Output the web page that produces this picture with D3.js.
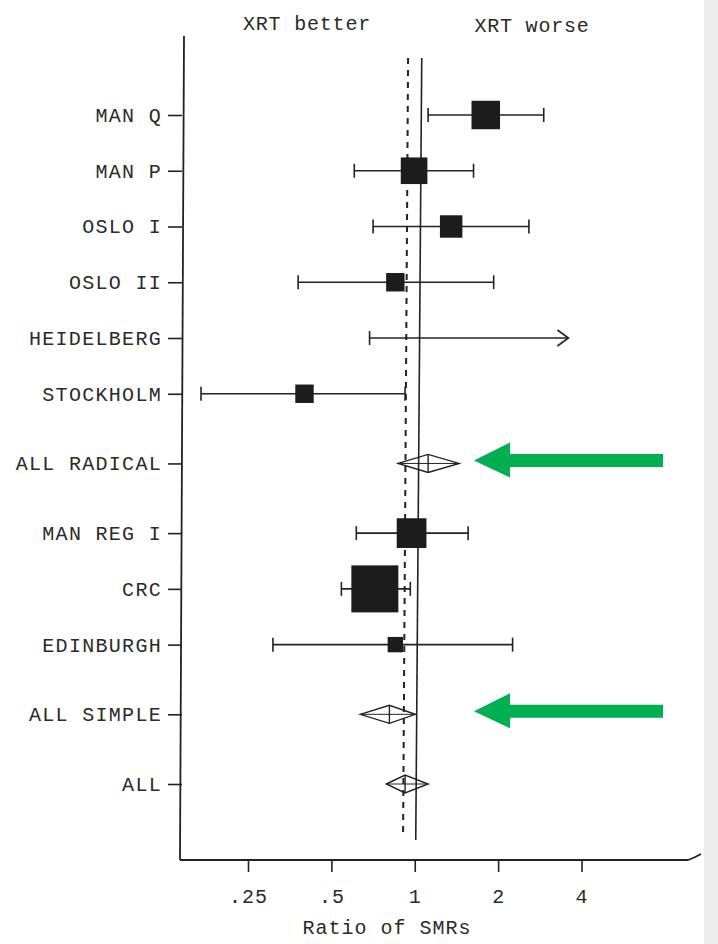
<!DOCTYPE html>
<html>
<head>
<meta charset="utf-8">
<script src="https://cdn.jsdelivr.net/npm/d3@7"></script>
<style>
  body { margin: 0; background: #fff; }
  text { font-family: "Liberation Mono", "DejaVu Sans Mono", monospace; fill: #2a2a2a; }
</style>
</head>
<body>
<div id="root"></div>
<script>
// rows of the forest plot, top to bottom
const studies = ['MAN Q', 'MAN P', 'OSLO I', 'OSLO II', 'HEIDELBERG', 'STOCKHOLM',
  'ALL RADICAL', 'MAN REG I', 'CRC', 'EDINBURGH', 'ALL SIMPLE', 'ALL']
const estimates = [1.76, 0.97, 1.32, 0.83, null, 0.39, 1.09, 0.95, 0.70, 0.83, 0.79, 0.90]
const lower = [1.09, 0.59, 0.69, 0.37, 0.67, 0.165, 0.85, 0.60, 0.53, 0.30, 0.62, 0.77]
const upper = [2.85, 1.59, 2.52, 1.88, 3.5, 0.90, 1.41, 1.52, 0.94, 2.2, 0.98, 1.09]
const weights = [7.9, 6.9, 4.9, 3.3, null, 3.3, null, 8.6, 21.5, 2.3, null, null]
const summaryRows = ['ALL RADICAL', 'ALL SIMPLE', 'ALL']
const openEnded = ['HEIDELBERG']
const overall = 0.90
const xTicks = [0.25, 0.5, 1, 2, 4]
const xTickLabels = ['.25', '.5', '1', '2', '4']
const sideLabels = ['XRT better', 'XRT worse']
const axisTitle = 'Ratio of SMRs'
const highlighted = ['ALL RADICAL', 'ALL SIMPLE']

const w = 718
const h = 944
const plotLeft = 182
const plotBottom = 860
const plotTop = 36

const svg = d3.select('#root')
  .append('svg')
  .attr('width', w)
  .attr('height', h)

svg.append('rect').attr('width', w).attr('height', h).attr('fill', '#fff')
svg.append('rect').attr('x', 704).attr('width', 14).attr('height', h).attr('fill', '#ededed')

const xScale = d3.scaleLog()
  .base(2)
  .domain([0.25, 4])
  .range([251, 584.5])

// slot index, extra space around the summary rows
const slots = []
studies.forEach((s, i) => {
  if (i === 0) { slots.push(0); return }
  const gap = summaryRows.includes(s) || summaryRows.includes(studies[i - 1]) ? 1.25 : 1
  slots.push(slots[i - 1] + gap)
})
const slotScale = d3.scaleLinear().domain([0, 12]).range([115, 784])
const yScale = d3.scaleOrdinal()
  .domain(studies)
  .range(slots.map(s => slotScale(s)))

const boxSize = d3.scaleSqrt().domain([0, 21.5]).range([0, 47])

const data = studies.map((s, i) => ({
  name: s,
  est: estimates[i],
  lo: lower[i],
  hi: upper[i],
  weight: weights[i],
  summary: summaryRows.includes(s),
  open: openEnded.includes(s)
}))

const ink = '#222'

// frame lines
svg.append('line')
  .attr('x1', plotLeft + 2).attr('x2', plotLeft - 2)
  .attr('y1', plotTop).attr('y2', plotBottom)
  .attr('stroke', ink).attr('stroke-width', 1.8)
svg.append('path')
  .attr('d', 'M' + (plotLeft - 2) + ',' + plotBottom + ' L688,' + plotBottom + ' Q694,' + (plotBottom - 2) + ' 701,' + (plotBottom - 6))
  .attr('fill', 'none')
  .attr('stroke', ink).attr('stroke-width', 1.8)

// reference lines
svg.append('line')
  .attr('x1', xScale(1) + 4).attr('x2', xScale(1) - 2)
  .attr('y1', 58).attr('y2', 840)
  .attr('stroke', ink).attr('stroke-width', 1.6)
svg.append('line')
  .attr('x1', xScale(overall) + 3).attr('x2', xScale(overall) - 2)
  .attr('y1', 58).attr('y2', 835)
  .attr('stroke', ink).attr('stroke-width', 2)
  .attr('stroke-dasharray', '6,6')

// axes
const xAxis = d3.axisBottom(xScale)
  .tickValues(xTicks)
  .tickFormat((d, i) => xTickLabels[i])
  .tickSize(12)
  .tickPadding(17)

const gx = svg.append('g')
  .attr('transform', 'translate(-3,' + plotBottom + ')')
  .call(xAxis)
gx.select('.domain').remove()
gx.selectAll('line').attr('stroke', ink).attr('stroke-width', 1.6)
gx.selectAll('text').attr('font-size', 20).attr('letter-spacing', 1).attr('fill', '#2a2a2a')

const yAxis = d3.axisLeft(yScale)
  .tickSize(14)
  .tickPadding(6)

const gy = svg.append('g')
  .attr('transform', 'translate(' + plotLeft + ',0)')
  .call(yAxis)
gy.select('.domain').remove()
gy.selectAll('line').attr('stroke', ink).attr('stroke-width', 1.6)
gy.selectAll('text').attr('font-size', 20).attr('letter-spacing', 1.3).attr('fill', '#2a2a2a')

svg.append('text')
  .attr('x', 387).attr('y', 929)
  .attr('text-anchor', 'middle')
  .attr('dominant-baseline', 'middle')
  .attr('font-size', 20).attr('letter-spacing', 1)
  .text(axisTitle)

svg.selectAll('.side')
  .data(sideLabels)
  .enter()
  .append('text')
    .attr('class', 'side')
    .attr('x', (d, i) => i === 0 ? 307 : 532)
    .attr('y', (d, i) => i === 0 ? 25 : 27)
    .attr('text-anchor', 'middle')
    .attr('dominant-baseline', 'middle')
    .attr('font-size', 20).attr('letter-spacing', 0.8)
    .text(d => d)

// confidence intervals for single studies
const studyRows = data.filter(d => !d.summary)

svg.selectAll('.ci')
  .data(studyRows)
  .enter()
  .append('line')
    .attr('class', 'ci')
    .attr('x1', d => xScale(d.lo))
    .attr('x2', d => xScale(d.hi))
    .attr('y1', d => yScale(d.name))
    .attr('y2', d => yScale(d.name))
    .attr('stroke', ink).attr('stroke-width', 1.6)

svg.selectAll('.cap-lo')
  .data(studyRows)
  .enter()
  .append('line')
    .attr('class', 'cap-lo')
    .attr('x1', d => xScale(d.lo)).attr('x2', d => xScale(d.lo))
    .attr('y1', d => yScale(d.name) - 7).attr('y2', d => yScale(d.name) + 7)
    .attr('stroke', ink).attr('stroke-width', 1.6)

svg.selectAll('.cap-hi')
  .data(studyRows.filter(d => !d.open))
  .enter()
  .append('line')
    .attr('class', 'cap-hi')
    .attr('x1', d => xScale(d.hi)).attr('x2', d => xScale(d.hi))
    .attr('y1', d => yScale(d.name) - 7).attr('y2', d => yScale(d.name) + 7)
    .attr('stroke', ink).attr('stroke-width', 1.6)

svg.selectAll('.open-arrow')
  .data(studyRows.filter(d => d.open))
  .enter()
  .append('path')
    .attr('class', 'open-arrow')
    .attr('d', d => {
      const x = xScale(d.hi)
      const y = yScale(d.name)
      return 'M' + (x - 11) + ',' + (y - 8) + ' L' + x + ',' + y + ' L' + (x - 11) + ',' + (y + 8)
    })
    .attr('fill', 'none')
    .attr('stroke', ink).attr('stroke-width', 1.6)

svg.selectAll('.box')
  .data(studyRows.filter(d => d.est !== null))
  .enter()
  .append('rect')
    .attr('class', 'box')
    .attr('x', d => xScale(d.est) - boxSize(d.weight) / 2)
    .attr('y', d => yScale(d.name) - boxSize(d.weight) / 2)
    .attr('width', d => boxSize(d.weight))
    .attr('height', d => boxSize(d.weight))
    .attr('fill', '#1c1c1c')

// pooled estimates as diamonds
const pooled = data.filter(d => d.summary)

svg.selectAll('.diamond')
  .data(pooled)
  .enter()
  .append('path')
    .attr('class', 'diamond')
    .attr('d', d => {
      const y = yScale(d.name)
      return 'M' + xScale(d.lo) + ',' + y +
        ' L' + xScale(d.est) + ',' + (y - 9) +
        ' L' + xScale(d.hi) + ',' + y +
        ' L' + xScale(d.est) + ',' + (y + 9) + ' Z'
    })
    .attr('fill', 'none')
    .attr('stroke', ink).attr('stroke-width', 1.4)

svg.selectAll('.diamond-mid')
  .data(pooled)
  .enter()
  .append('line')
    .attr('class', 'diamond-mid')
    .attr('x1', d => xScale(d.est)).attr('x2', d => xScale(d.est))
    .attr('y1', d => yScale(d.name) - 9).attr('y2', d => yScale(d.name) + 9)
    .attr('stroke', ink).attr('stroke-width', 1.4)

svg.selectAll('.diamond-bar')
  .data(pooled)
  .enter()
  .append('line')
    .attr('class', 'diamond-bar')
    .attr('x1', d => xScale(d.lo)).attr('x2', d => xScale(d.hi))
    .attr('y1', d => yScale(d.name)).attr('y2', d => yScale(d.name))
    .attr('stroke', ink).attr('stroke-width', 1)

// green call-out arrows
svg.selectAll('.callout')
  .data(highlighted)
  .enter()
  .append('path')
    .attr('class', 'callout')
    .attr('d', d => {
      const y = yScale(d) - 3
      const tip = 474
      return 'M' + tip + ',' + y +
        ' L510,' + (y - 18) + ' L510,' + (y - 6.5) +
        ' L663,' + (y - 6.5) + ' L663,' + (y + 6.5) +
        ' L510,' + (y + 6.5) + ' L510,' + (y + 17) + ' Z'
    })
    .attr('fill', '#00b050')
</script>
</body>
</html>
